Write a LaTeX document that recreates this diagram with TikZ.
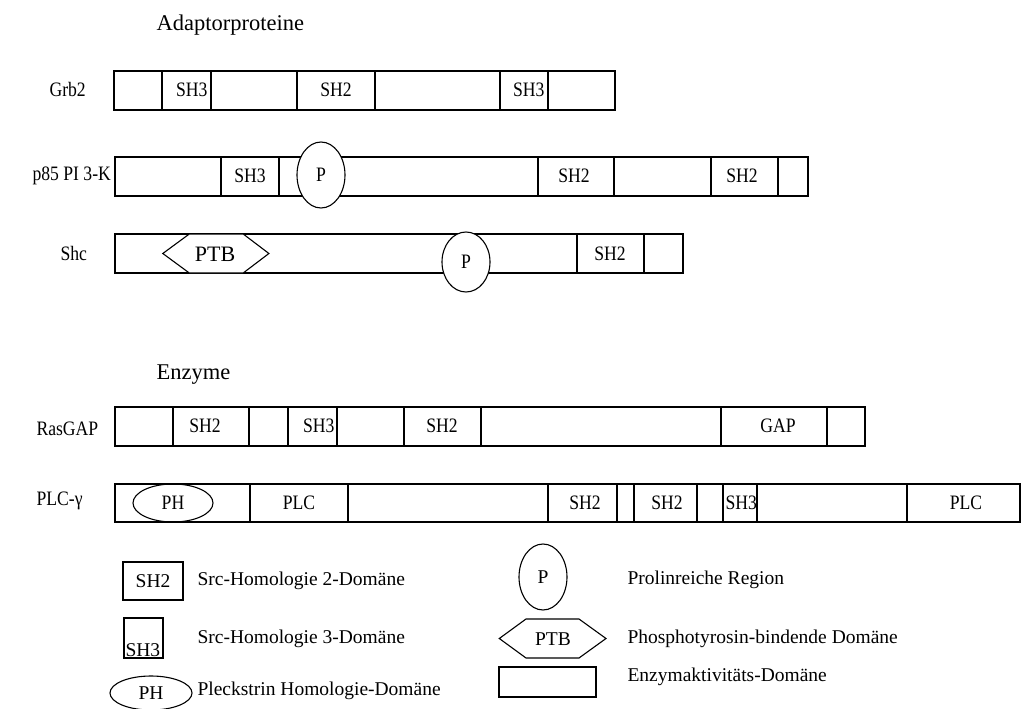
\documentclass[tikz,border=0pt]{standalone}
\usepackage{fontspec}
\setmainfont{Liberation Serif}
\newfontfamily\narrowfont[FakeStretch=0.86]{Liberation Serif}
\usetikzlibrary{shapes.geometric}
\newcommand\fsrow{\narrowfont\fontsize{20.5}{24}\selectfont}
\newcommand\fsleg{\fontsize{19.5}{22}\selectfont}
\newcommand\fstitle{\fontsize{22.5}{26}\selectfont}
\begin{document}
\begin{tikzpicture}[x=1pt,y=-1pt,line width=1.1pt,
  txt/.style={inner sep=0pt,font=\fsrow},
  legtxt/.style={inner sep=0pt,font=\fsleg,anchor=west},
  title/.style={inner sep=0pt,font=\fstitle,anchor=west},
  rowlbl/.style={inner sep=0pt,font=\fsrow,anchor=west},
  seg/.style={draw}]
\useasboundingbox (0,0) rectangle (1021,709);

% titles
\node[title] (tadapt) at (156,25) {Adaptorproteine};
\node[title] (tenz) at (156,375) {Enzyme};

% ---------- Grb2
\node[rowlbl] (lgrb) at (49,89) {Grb2};
\draw[seg] (114,71) rectangle (615,110);
\foreach \x in {162,211,297,375,500,548} \draw (\x,71) -- (\x,110);
\node[txt,anchor=east] (g1) at (208,90) {SH3};
\node[txt] (g2) at (336,90) {SH2};
\node[txt,anchor=east] (g3) at (545,90) {SH3};

% ---------- p85
\node[rowlbl] (lp85) at (32,176) {p85 PI 3-K};
\draw[seg] (115,157) rectangle (808,196);
\foreach \x in {221,279,538,614,711,778} \draw (\x,157) -- (\x,196);
\node[txt] (p1) at (250,176) {SH3};
\node[txt] (p2) at (574,176) {SH2};
\node[txt] (p3) at (742,176) {SH2};
\node[draw,ellipse,fill=white,minimum width=48pt,minimum height=66pt,inner sep=0pt,font=\fsrow] (pP) at (321,175) {P};

% ---------- Shc
\node[rowlbl] (lshc) at (60,253) {Shc};
\draw[seg] (115,234) rectangle (683,273);
\foreach \x in {577,644} \draw (\x,234) -- (\x,273);
\draw[fill=white] (162.8,253.5) -- (189.3,234) -- (243.2,234) -- (268.9,253.5) -- (243.2,273) -- (189.3,273) -- cycle;
\node[inner sep=0pt,font=\fontsize{22}{24}\selectfont] (sptb) at (215,254) {PTB};
\node[txt] (s2) at (610,254) {SH2};
\node[draw,ellipse,fill=white,minimum width=48pt,minimum height=60pt,inner sep=0pt,font=\fsrow] (sP) at (466,262) {P};

% ---------- RasGAP
\node[rowlbl] (lras) at (36,429) {RasGAP};
\draw[seg] (115,407) rectangle (865,446);
\foreach \x in {173,249,288,337,404,481,721,827} \draw (\x,407) -- (\x,446);
\node[txt] (r1) at (205,426) {SH2};
\node[txt,anchor=east] (r2) at (335,426) {SH3};
\node[txt] (r3) at (442,426) {SH2};
\node[txt] (r4) at (778,426) {GAP};

% ---------- PLC-gamma
\node[rowlbl] (lplc) at (36,501) {PLC-γ};
\draw[seg] (115,484) rectangle (1020,522);
\foreach \x in {250,348,548,617,634,697,723,757,907} \draw (\x,484) -- (\x,522);
\node[draw,ellipse,minimum width=80pt,minimum height=38pt,inner sep=0pt,font=\fsrow] (lPH) at (173,503) {PH};
\node[txt] (l1) at (299,503) {PLC};
\node[txt] (l2) at (585,503) {SH2};
\node[txt] (l3) at (667,503) {SH2};
\node[txt,anchor=west] (l4) at (725,503) {SH3};
\node[txt] (l5) at (966,503) {PLC};

% ---------- legend
\node[draw,minimum width=60pt,minimum height=38pt,inner sep=0pt,font=\fsleg] (kSH2) at (153,581) {SH2};
\node[legtxt] (kSH2t) at (197,581) {Src-Homologie 2-Domäne};

\draw (124,618) rectangle (163,658);
\node[inner sep=0pt,font=\fsleg,anchor=south west] (kSH3) at (125,657) {SH3};
\node[legtxt] (kSH3t) at (197,639) {Src-Homologie 3-Domäne};

\node[draw,ellipse,minimum width=82pt,minimum height=34pt,inner sep=0pt,font=\fsleg] (kPH) at (151,693) {PH};
\node[legtxt] (kPHt) at (197,691) {Pleckstrin Homologie-Domäne};

\node[draw,ellipse,minimum width=48pt,minimum height=66pt,inner sep=0pt,font=\fsleg] (kP) at (543,577) {P};
\node[legtxt] (kPt) at (627,580) {Prolinreiche Region};

\draw (499.3,638.5) -- (526,619) -- (579,619) -- (606,638.5) -- (579,658) -- (526,658) -- cycle;
\node[inner sep=0pt,font=\fsleg] (kPTB) at (553,639) {PTB};
\node[legtxt] (kPTBt) at (627,639) {Phosphotyrosin-bindende Domäne};

\node[draw,minimum width=97pt,minimum height=30pt,inner sep=0pt] (kEnz) at (547.5,682) {};
\node[legtxt] (kEnzt) at (627,677) {Enzymaktivitäts-Domäne};
\end{tikzpicture}
\end{document}
